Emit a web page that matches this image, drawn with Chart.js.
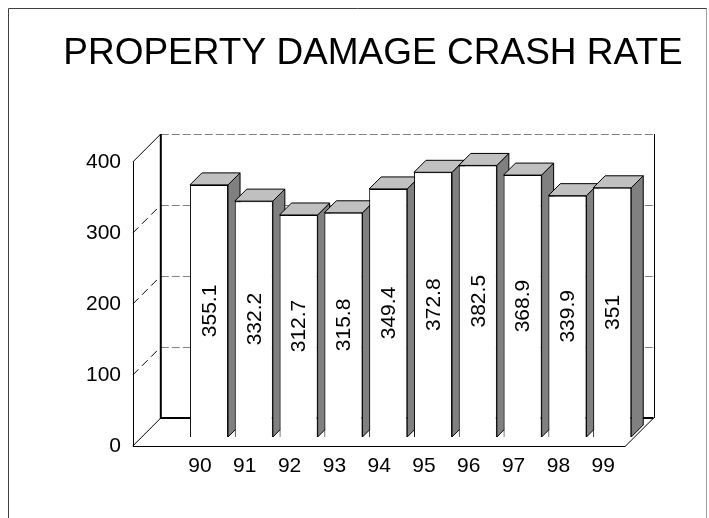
<!DOCTYPE html>
<html>
<head>
<meta charset="utf-8">
<script src="https://cdn.jsdelivr.net/npm/chart.js@4/dist/chart.umd.min.js"></script>
<style>
  html, body { margin: 0; padding: 0; background: #fff; }
  canvas { display: block; }
</style>
</head>
<body>
<canvas id="chart" width="709" height="518"></canvas>
<script>
// data
const years = ['90', '91', '92', '93', '94', '95', '96', '97', '98', '99'];
const crashRate = [355.1, 332.2, 312.7, 315.8, 349.4, 372.8, 382.5, 368.9, 339.9, 351];
const yTicks = [0, 100, 200, 300, 400];
const chartTitle = 'PROPERTY DAMAGE CRASH RATE';

const FONT = '"Liberation Sans", Arial, Helvetica, sans-serif';
const FRONT = 9;      // bar plane -> front edge of the floor
const BACK = 19;      // bar plane -> back wall
const DEPTH = 12;     // depth of a bar

function poly(ctx, pts, fill) {
  ctx.beginPath();
  ctx.moveTo(pts[0][0], pts[0][1]);
  for (let i = 1; i < pts.length; i++) ctx.lineTo(pts[i][0], pts[i][1]);
  ctx.closePath();
  if (fill) { ctx.fillStyle = fill; ctx.fill(); }
  ctx.stroke();
}
function line(ctx, x1, y1, x2, y2) {
  ctx.beginPath();
  ctx.moveTo(x1, y1);
  ctx.lineTo(x2, y2);
  ctx.stroke();
}

// walls, floor, 3d sides of the bars, labels
const box3d = {
  id: 'box3d',
  beforeDraw(chart) {
    const ctx = chart.ctx;
    ctx.save();
    ctx.lineWidth = 1;
    ctx.strokeStyle = '#404040';
    line(ctx, 8.5, 518, 8.5, 8.5);
    line(ctx, 8.5, 8.5, 707, 8.5);
    ctx.strokeStyle = '#a0a0a0';
    line(ctx, 706.5, 8.5, 706.5, 518);
    ctx.fillStyle = '#000';
    ctx.font = '37px ' + FONT;
    ctx.textAlign = 'center';
    ctx.textBaseline = 'middle';
    ctx.fillText(chartTitle, 373, 54);
    ctx.restore();
  },
  beforeDatasetsDraw(chart) {
    const { ctx, chartArea: a, scales: { y } } = chart;
    const slot = a.width / years.length;
    const L = a.left - slot;   // floor starts one slot left of the first bar
    const R = a.right;
    const y0 = y.getPixelForValue(0);
    const yTop = y.getPixelForValue(yTicks[yTicks.length - 1]);
    const fx = v => v - FRONT, fy = v => v + FRONT;
    const bx = v => v + BACK, by = v => v - BACK;

    ctx.save();
    ctx.lineWidth = 1;
    // back wall grid
    ctx.strokeStyle = '#808080';
    ctx.setLineDash([8, 3]);
    yTicks.slice(1).forEach(t => {
      const py = Math.round(by(y.getPixelForValue(t))) + 0.5;
      line(ctx, bx(L), py, bx(R), py);
    });
    // left wall grid
    ctx.strokeStyle = '#000';
    ctx.setLineDash([8, 5]);
    yTicks.slice(1, -1).forEach(t => {
      const py = y.getPixelForValue(t);
      line(ctx, fx(L), fy(py), bx(L), by(py));
    });
    ctx.setLineDash([]);
    // left wall outline
    line(ctx, fx(L), fy(yTop), bx(L), by(yTop));
    line(ctx, Math.round(fx(L)) + 0.5, fy(yTop), Math.round(fx(L)) + 0.5, fy(y0));
    // back wall right edge
    line(ctx, Math.round(bx(R)) + 0.5, by(yTop), Math.round(bx(R)) + 0.5, by(y0));
    // floor
    line(ctx, fx(L), Math.round(fy(y0)) + 0.5, fx(R), Math.round(fy(y0)) + 0.5);
    line(ctx, fx(L), fy(y0), bx(L), by(y0));
    line(ctx, fx(R), fy(y0), bx(R), by(y0));
    // back wall thick edges
    ctx.lineWidth = 2;
    line(ctx, bx(L), by(yTop), bx(L), by(y0) + 1);
    line(ctx, bx(L), by(y0), bx(R), by(y0));

    // bar sides and tops
    ctx.lineWidth = 1;
    ctx.strokeStyle = '#000';
    chart.getDatasetMeta(0).data.forEach(bar => {
      const { x, y: top, base, width } = bar.getProps(['x', 'y', 'base', 'width'], true);
      const l = x - width / 2, r = x + width / 2;
      poly(ctx, [[r, top], [r + DEPTH, top - DEPTH], [r + DEPTH, base - DEPTH], [r, base]], '#808080');
      poly(ctx, [[l, top], [r, top], [r + DEPTH, top - DEPTH], [l + DEPTH, top - DEPTH]], '#c0c0c0');
    });
    ctx.restore();
  },
  afterDatasetsDraw(chart) {
    const ctx = chart.ctx;
    ctx.save();
    ctx.fillStyle = '#000';
    ctx.font = '21px ' + FONT;
    ctx.textAlign = 'center';
    ctx.textBaseline = 'middle';
    chart.getDatasetMeta(0).data.forEach((bar, i) => {
      const { x, y: top, base } = bar.getProps(['x', 'y', 'base'], true);
      ctx.save();
      ctx.translate(x, (top + base) / 2);
      ctx.rotate(-Math.PI / 2);
      ctx.fillText(String(crashRate[i]), 0, 1);
      ctx.restore();
    });
    ctx.restore();
  }
};

new Chart(document.getElementById('chart'), {
  type: 'bar',
  data: {
    labels: years,
    datasets: [{
      data: crashRate,
      backgroundColor: '#ffffff',
      borderColor: '#000000',
      borderWidth: 1,
      categoryPercentage: 1,
      barPercentage: 0.85
    }]
  },
  options: {
    responsive: false,
    animation: false,
    devicePixelRatio: 1,
    layout: { padding: { top: 153, right: 74.4, bottom: 31, left: 0 } },
    plugins: { legend: { display: false }, tooltip: { enabled: false }, title: { display: false } },
    scales: {
      x: {
        grid: { display: false, drawTicks: false },
        border: { display: false },
        ticks: { color: '#000', font: { family: FONT, size: 21 }, padding: 17, labelOffset: -FRONT, maxRotation: 0, autoSkip: false },
        afterFit: s => { s.height = 50; }
      },
      y: {
        min: 0,
        max: 400,
        grid: { display: false, drawTicks: false },
        border: { display: false },
        ticks: { color: '#000', font: { family: FONT, size: 21 }, stepSize: 100, padding: 65.6, labelOffset: FRONT },
        afterFit: s => { s.width = 186.6; }
      }
    }
  },
  plugins: [box3d]
});
</script>
</body>
</html>
